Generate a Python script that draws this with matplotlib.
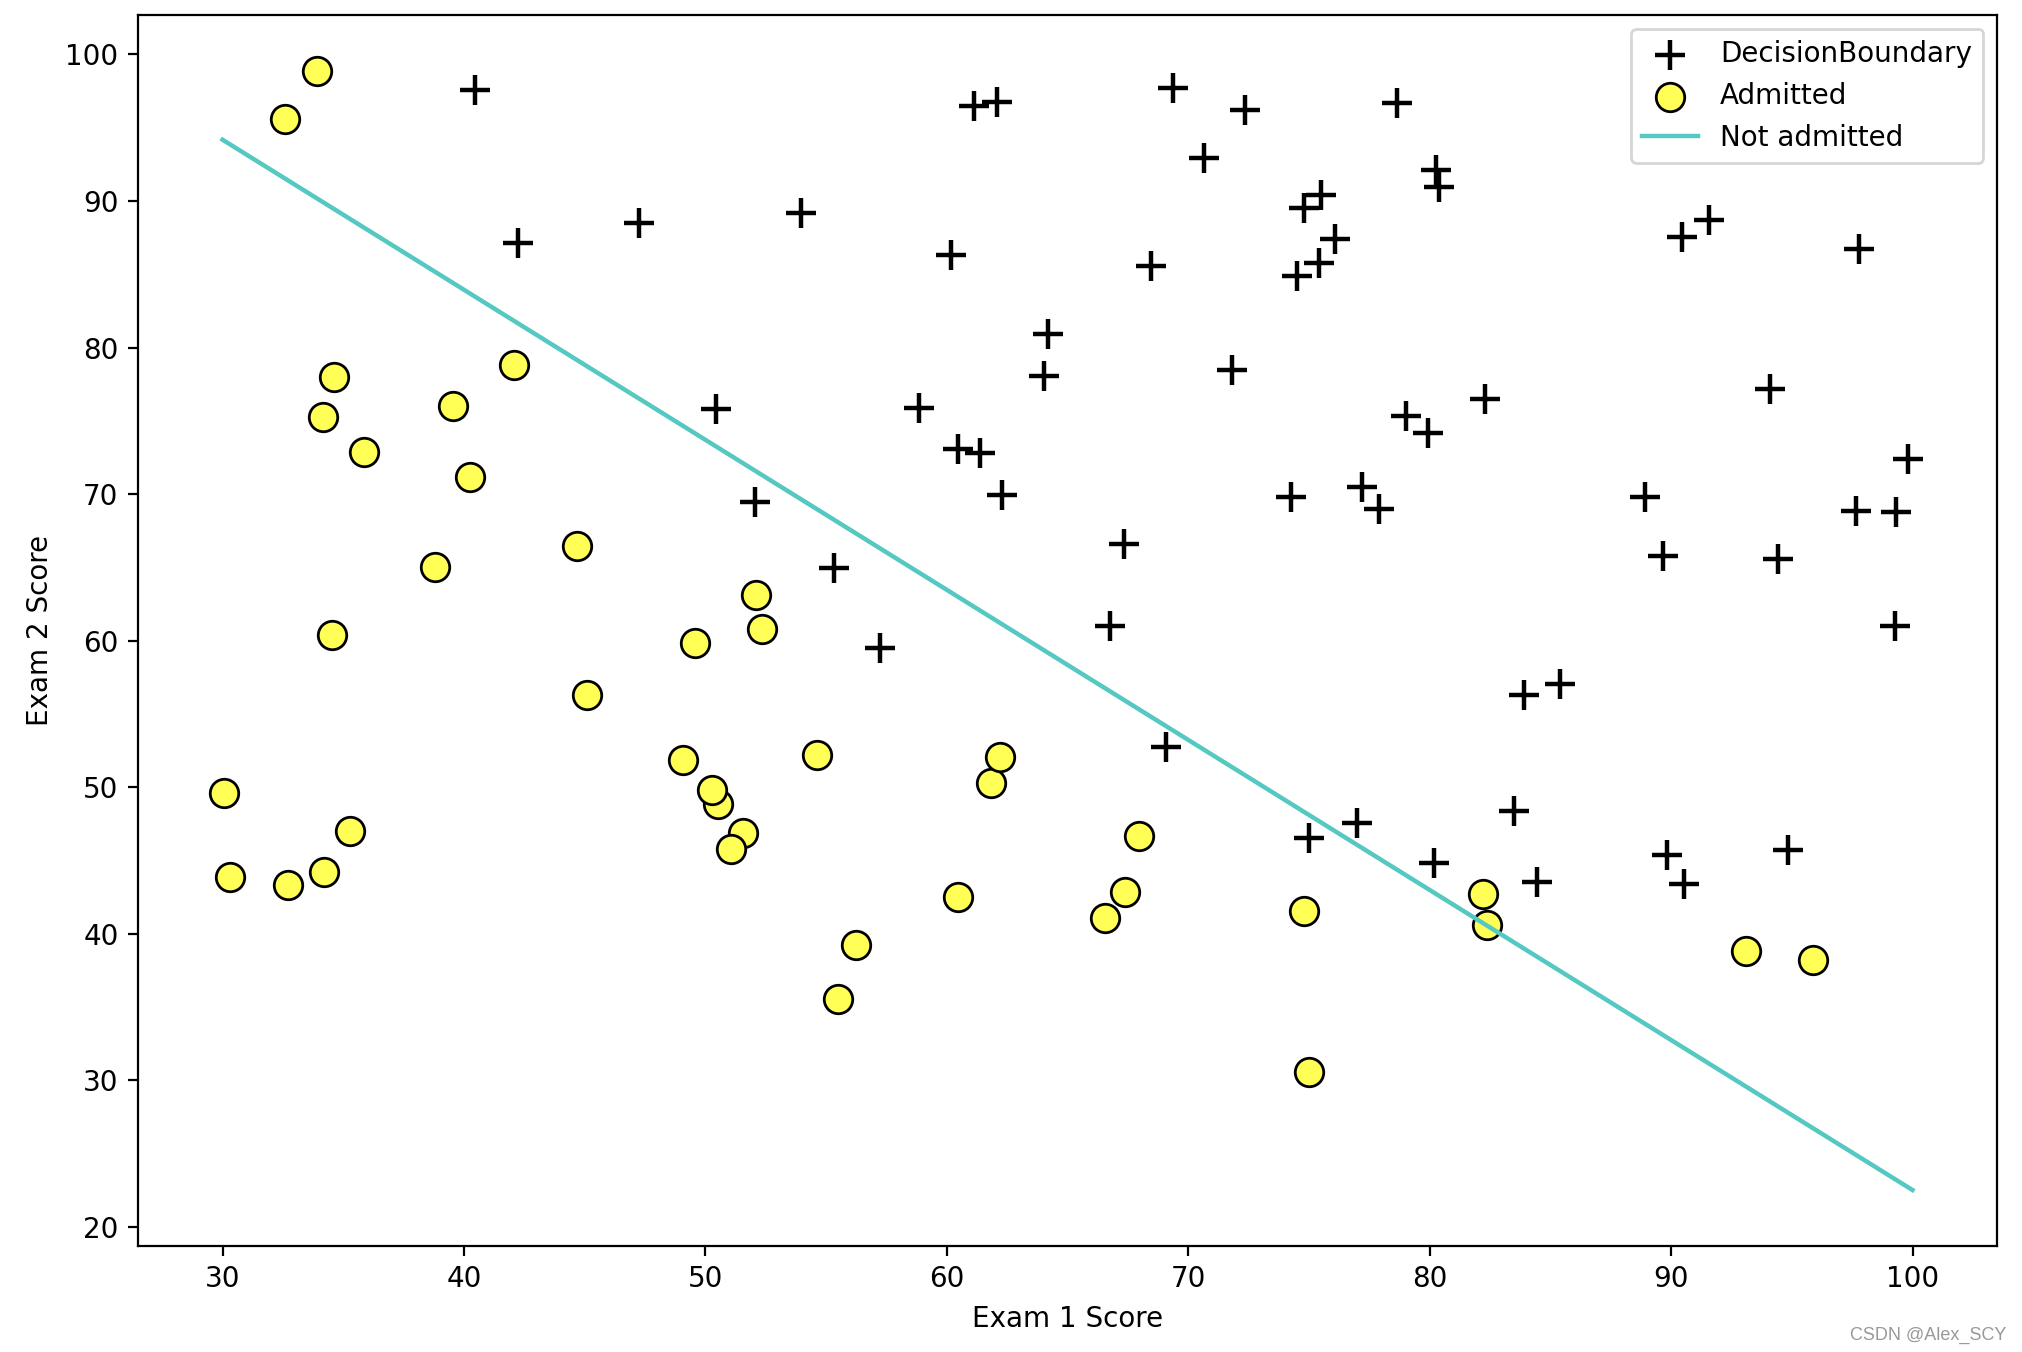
import matplotlib
matplotlib.use("Agg")
import matplotlib.pyplot as plt

# exam scores (exam 1, exam 2) for the two groups
plus_x = [60.18, 79.03, 61.11, 75.02, 76.10, 84.43, 82.31, 69.36, 53.97, 69.07,
          70.66, 76.98, 89.68, 77.92, 62.27, 80.19, 61.38, 85.40, 52.05, 64.18,
          83.90, 94.44, 77.19, 97.77, 62.07, 91.56, 79.94, 99.27, 90.55, 97.65,
          74.25, 71.80, 75.40, 40.46, 80.28, 66.75, 64.04, 72.35, 60.46, 58.84,
          99.83, 47.26, 50.46, 88.91, 94.83, 67.32, 57.24, 80.37, 68.47, 75.48,
          78.64, 94.09, 90.45, 74.49, 89.85, 83.49, 42.26, 99.32, 55.34, 74.78]
plus_y = [86.31, 75.34, 96.51, 46.55, 87.42, 43.53, 76.48, 97.72, 89.21, 52.74,
          92.93, 47.58, 65.80, 68.97, 69.95, 44.82, 72.81, 57.05, 69.43, 80.91,
          56.31, 65.57, 70.46, 86.73, 96.77, 88.70, 74.16, 61.00, 43.39, 68.86,
          69.82, 78.45, 85.76, 97.54, 92.12, 60.99, 78.03, 96.23, 73.09, 75.86,
          72.37, 88.48, 75.81, 69.80, 45.69, 66.59, 59.51, 90.96, 85.59, 90.42,
          96.65, 77.16, 87.51, 84.85, 45.36, 48.38, 87.10, 68.78, 64.93, 89.53]

circle_x = [34.62, 30.29, 35.85, 45.08, 95.86, 75.01, 39.54, 67.95, 67.37, 50.53,
            34.21, 93.11, 61.83, 38.79, 52.11, 40.24, 54.64, 33.92, 74.79, 34.18,
            51.55, 82.37, 51.05, 62.22, 34.52, 50.29, 49.59, 32.58, 35.29, 56.25,
            30.06, 44.67, 66.56, 49.07, 32.72, 60.46, 82.23, 42.08, 52.35, 55.48]
circle_y = [78.02, 43.89, 72.90, 56.32, 38.23, 30.60, 76.04, 46.68, 42.84, 48.86,
            44.21, 38.80, 50.26, 65.00, 63.13, 71.17, 52.21, 98.87, 41.57, 75.24,
            46.86, 40.62, 45.82, 52.06, 60.40, 49.80, 59.81, 95.60, 47.02, 39.26,
            49.59, 66.45, 41.09, 51.88, 43.31, 42.51, 42.72, 78.84, 60.77, 35.57]

# decision boundary end points
boundary_x = [30, 100]
boundary_y = [94.18, 22.52]

fig = plt.figure(figsize=(10.11, 6.76), dpi=200)
ax = fig.add_axes([138 / 2022, 106 / 1352, 1859 / 2022, 1231 / 1352])

h1 = ax.scatter(plus_x, plus_y, marker='+', s=110, c='black', linewidths=1.6,
                label='DecisionBoundary')
h2 = ax.scatter(circle_x, circle_y, marker='o', s=105, c='#ffff55',
                edgecolors='black', linewidths=1.0, label='Admitted')
h3, = ax.plot(boundary_x, boundary_y, color='#55c8c1', linewidth=1.6,
              label='Not admitted')

ax.set_xlabel('Exam 1 Score')
ax.set_ylabel('Exam 2 Score')
ax.legend(handles=[h1, h2, h3], loc='upper right')

fig.text(0.9925, 0.006, 'CSDN @Alex_SCY', ha='right', va='bottom',
         fontsize=6.5, color='#999999', family='Liberation Sans')

fig.savefig('out.png', dpi=200)
